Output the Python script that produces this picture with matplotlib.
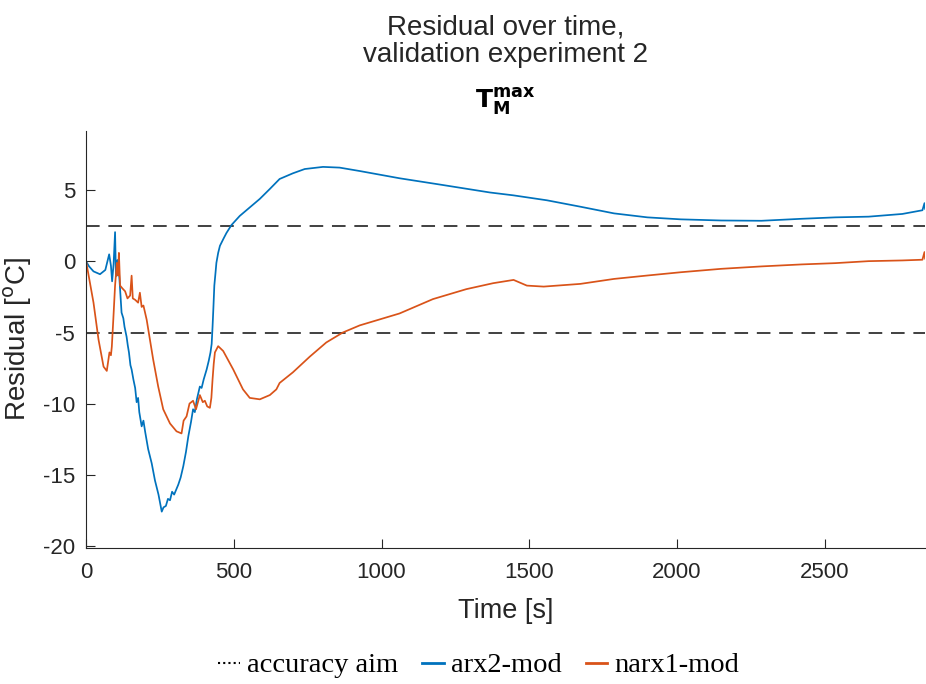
import numpy as np
import matplotlib
matplotlib.use("Agg")
import matplotlib.pyplot as plt
from matplotlib.lines import Line2D

plt.rcParams['font.family'] = ['Liberation Sans', 'DejaVu Sans']
plt.rcParams['axes.unicode_minus'] = False

# arx2-mod residual
t_arx = [0, 10, 25, 47, 65, 78, 84, 88, 93, 98, 101, 106, 110, 113, 120, 126, 130, 137, 141,
         145, 150, 154, 160, 166, 171, 176, 180, 188, 194, 200, 205, 210, 222, 233, 245, 256,
         262, 270, 277, 284, 291, 298, 312, 320, 329, 338, 346, 355, 362, 368, 375, 385, 391,
         398, 408, 415, 421, 425, 428, 431, 434, 438, 441, 447, 453, 465, 475, 492, 520, 554,
         588, 622, 655, 700, 740, 802, 858, 926, 1061, 1200, 1367, 1446, 1560, 1673, 1787,
         1900, 2013, 2150, 2286, 2422, 2536, 2649, 2763, 2831, 2838, 2840]
r_arx = [0, -0.35, -0.7, -0.9, -0.6, 0.5, -0.3, -1.4, -0.2, 2.06, -1.05, 0.1, -0.4, -1.3,
         -3.6, -4.0, -4.6, -5.3, -5.9, -6.4, -7.3, -7.6, -8.3, -8.9, -9.9, -9.6, -10.6, -11.6,
         -11.2, -12.0, -12.6, -13.2, -14.2, -15.4, -16.4, -17.6, -17.3, -17.2, -16.7, -16.8,
         -16.2, -16.4, -15.7, -15.2, -14.4, -13.4, -12.3, -11.3, -10.4, -10.6, -9.7, -8.8,
         -8.9, -8.3, -7.6, -7.0, -6.4, -5.8, -4.6, -3.2, -1.7, -0.8, -0.1, 0.6, 1.1, 1.6, 2.0,
         2.56, 3.2, 3.8, 4.4, 5.1, 5.8, 6.2, 6.5, 6.65, 6.6, 6.36, 5.85, 5.4, 4.85, 4.65, 4.3,
         3.85, 3.38, 3.1, 2.96, 2.88, 2.86, 3.0, 3.1, 3.15, 3.34, 3.6, 4.1, 3.7]

# narx1-mod residual
t_narx = [0, 25, 42, 59, 70, 79, 84, 87, 92, 98, 104, 108, 111, 115, 123, 132, 140, 149,
          154, 158, 166, 176, 182, 188, 194, 205, 216, 227, 244, 261, 284, 306, 323, 330,
          340, 350, 362, 372, 385, 395, 402, 410, 419, 424, 428, 432, 436, 447, 464, 498,
          531, 554, 588, 622, 644, 655, 700, 757, 813, 869, 926, 1061, 1174, 1287, 1378,
          1447, 1492, 1549, 1673, 1787, 1900, 2013, 2150, 2286, 2422, 2536, 2649, 2763,
          2831, 2838, 2840]
r_narx = [0, -2.9, -5.5, -7.4, -7.7, -6.4, -6.6, -6.0, -4.1, -1.7, -0.1, -1.0, 0.6, -1.7,
          -1.9, -2.1, -2.6, -2.4, -1.0, -2.6, -2.7, -2.9, -2.2, -3.2, -3.1, -4.1, -5.5, -6.9,
          -8.8, -10.4, -11.4, -11.95, -12.1, -11.2, -10.9, -10.0, -9.8, -10.4, -9.4, -9.9,
          -9.8, -10.2, -10.3, -9.6, -8.3, -7.2, -6.4, -5.96, -6.3, -7.6, -9.0, -9.6, -9.7,
          -9.4, -9.0, -8.55, -7.8, -6.7, -5.7, -5.0, -4.5, -3.66, -2.65, -1.95, -1.53, -1.3,
          -1.7, -1.77, -1.58, -1.23, -0.99, -0.76, -0.52, -0.35, -0.21, -0.12, 0.02, 0.07,
          0.12, 0.66, 0.2]

aim = [2.5, -5]

blue = '#0072BD'
orange = '#D95319'

fig = plt.figure(figsize=(9.26, 6.84), dpi=100)
ax = fig.add_axes([0.093, 0.199, 0.906, 0.61])

for a in aim:
    ax.axhline(a, color='#404040', lw=1.4, ls=(0, (7, 4.5)))
ax.plot(t_arx, r_arx, color=blue, lw=1.25)
ax.plot(t_narx, r_narx, color=orange, lw=1.25)

ax.set_xlim(0, 2840)
ax.set_ylim(-20.15, 9.2)
ax.set_xticks([0, 500, 1000, 1500, 2000, 2500])
ax.set_yticks([-20, -15, -10, -5, 0, 5])
ax.spines['top'].set_visible(False)
ax.spines['right'].set_visible(False)
for s in ['left', 'bottom']:
    ax.spines[s].set_color('#262626')
ax.tick_params(direction='in', length=6.5, colors='#262626', labelsize=16)
ax.tick_params(axis='x', pad=10)
ax.tick_params(axis='y', pad=8)

ax.set_xlabel('Time [s]', fontsize=19.5, color='#262626', labelpad=11)
ax.set_ylabel('Residual [$^{\\mathrm{o}}$C]', fontsize=20, color='#262626', labelpad=6)

fig.text(0.546, 0.94, 'Residual over time,\nvalidation experiment 2', ha='center', va='center',
         fontsize=20, color='#262626', linespacing=1.1)
fig.text(0.546, 0.852, r'$\mathbf{T}_{\mathbf{M}}^{\mathbf{max}}$', ha='center', va='center',
         fontsize=18, color='black')

handles = [Line2D([], [], color='black', ls=(0, (1, 1.5)), lw=1.5),
           Line2D([], [], color=blue, lw=2),
           Line2D([], [], color=orange, lw=2)]
fig.legend(handles, ['accuracy aim', 'arx2-mod', 'narx1-mod'], loc='center',
           bbox_to_anchor=(0.517, 0.027), ncol=3, frameon=False, handlelength=0.75,
           handletextpad=0.25, columnspacing=0.85,
           prop={'family': ['Liberation Serif', 'DejaVu Serif'], 'size': 20.5})

fig.savefig('out.png', dpi=100)
